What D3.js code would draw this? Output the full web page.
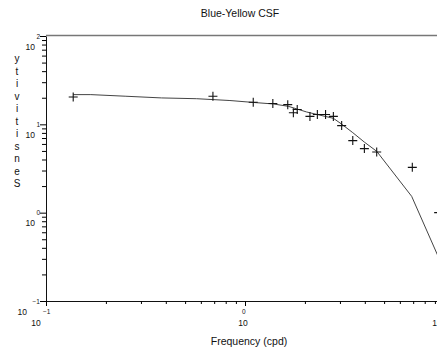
<!DOCTYPE html>
<html lang="en">
<head>
    <meta charset="UTF-8">
    <title>Blue-Yellow CSF</title>
    <script src="https://d3js.org/d3.v7.min.js"></script>
    <style>
        body { margin: 0; background: #fff; }
        text { font-family: "Liberation Sans", Arial, sans-serif; fill: #111; }
    </style>
</head>
<body>
    <svg width="437" height="349"></svg>
    <script>

// measured points (cpd, sensitivity)
const freqs = [0.137, 0.69, 1.10, 1.38, 1.64, 1.75, 1.83, 2.12, 2.31, 2.54, 2.78, 3.06, 3.48, 3.98, 4.59, 6.93, 9.4];
const sens  = [20.4, 20.8, 17.8, 17.2, 16.7, 13.5, 14.7, 12.3, 12.9, 12.9, 12.3, 9.67, 6.54, 5.31, 4.87, 3.26, 1.0];

// fitted curve
const fitFreqs = [0.137, 0.168, 0.252, 0.381, 0.572, 0.84, 1.10, 1.39, 1.65, 2.04, 2.38, 2.78, 3.06, 3.48, 3.98, 4.59, 6.88, 10.0];
const fitSens  = [21.7, 21.7, 20.8, 19.9, 19.5, 18.6, 17.7, 17.0, 16.0, 13.8, 12.7, 11.7, 10.05, 8.05, 6.29, 4.95, 1.53, 0.226];

// axis decades (powers of ten)
const xDecades = [-1, 0, 1];
const yDecades = [-1, 0, 1, 2];

const svg = d3.select("svg");
const plotLeft = 46, plotRight = 444, plotTop = 36, plotBottom = 301;

const x = d3.scaleLog().domain([0.1, 10]).range([plotLeft, plotRight]);
const y = d3.scaleLog().domain([0.1, 100]).range([plotBottom, plotTop]);

// minor + major tick values
function logTicks(exps) {
    const out = [];
    for (let i = 0; i < exps.length - 1; i++) {
        for (let m = 1; m < 10; m++) out.push(m * Math.pow(10, exps[i]));
    }
    out.push(Math.pow(10, exps[exps.length - 1]));
    return out;
}
const isMajor = v => Math.abs(Math.log10(v) - Math.round(Math.log10(v))) < 1e-9;

// top frame line
svg.append("line")
    .attr("x1", plotLeft).attr("x2", plotRight)
    .attr("y1", plotTop - 0.5).attr("y2", plotTop - 0.5)
    .attr("stroke", "#777").attr("stroke-width", 1.6);

// x axis
const xAxis = svg.append("g")
    .attr("transform", `translate(0,${plotBottom})`)
    .call(d3.axisBottom(x).tickValues(logTicks(xDecades)).tickFormat("").tickSizeOuter(0));
xAxis.selectAll(".tick line").attr("y2", d => isMajor(d) ? 5 : 3);
xAxis.select(".domain").attr("stroke", "#111");

// y axis
const yAxis = svg.append("g")
    .attr("transform", `translate(${plotLeft},0)`)
    .call(d3.axisLeft(y).tickValues(logTicks(yDecades)).tickFormat("").tickSizeOuter(0));
yAxis.selectAll(".tick line").attr("x2", d => isMajor(d) ? -6 : -4);
yAxis.select(".domain").attr("stroke", "#111");

// x tick labels: 10 with raised exponent
xDecades.forEach(e => {
    const px = x(Math.pow(10, e));
    svg.append("text")
        .attr("x", px - 3).attr("y", 313.5)
        .attr("font-size", 6.5)
        .text(e < 0 ? "\u2212" + (-e) : e);
    svg.append("text")
        .attr("x", px + (e === -1 ? -10 : e === 0 ? -2 : -7)).attr("y", 325.5)
        .attr("text-anchor", "middle")
        .attr("font-size", 8.5)
        .text("10");
});

// y tick labels
yDecades.forEach(e => {
    const py = y(Math.pow(10, e));
    svg.append("text")
        .attr("x", 40).attr("y", py + 2.5)
        .attr("text-anchor", "end")
        .attr("font-size", 6.5)
        .text(e < 0 ? "\u2212" + (-e) : e);
    svg.append("text")
        .attr("x", e < 0 ? 27 : 35).attr("y", py + 13.5)
        .attr("text-anchor", "end")
        .attr("font-size", 8.5)
        .text("10");
});

// fitted curve
const line = d3.line()
    .x((d, i) => x(fitFreqs[i]))
    .y((d, i) => y(fitSens[i]));
svg.append("path")
    .attr("d", line(fitFreqs))
    .attr("fill", "none")
    .attr("stroke", "#444")
    .attr("stroke-width", 1);

// data markers (+)
svg.selectAll(".pt")
    .data(freqs)
    .enter().append("path")
    .attr("class", "pt")
    .attr("d", (d, i) => {
        const cx = x(d), cy = y(sens[i]);
        return `M${cx - 4.5},${cy}H${cx + 4.5}M${cx},${cy - 4.5}V${cy + 4.5}`;
    })
    .attr("stroke", "#111")
    .attr("stroke-width", 1.1);

// titles
svg.append("text")
    .attr("x", 240).attr("y", 17)
    .attr("text-anchor", "middle")
    .attr("font-size", 10.5)
    .text("Blue-Yellow CSF");

svg.append("text")
    .attr("x", 249).attr("y", 345)
    .attr("text-anchor", "middle")
    .attr("font-size", 10.5)
    .text("Frequency (cpd)");

// vertical y title, letters stacked bottom to top
const yTitle = "Sensitivity".split("").reverse();
svg.selectAll(".ytitle")
    .data(yTitle)
    .enter().append("text")
    .attr("class", "ytitle")
    .attr("x", 17).attr("y", (d, i) => 62 + i * 12.5)
    .attr("text-anchor", "middle")
    .attr("font-size", 10)
    .text(d => d);

    </script>
</body>
</html>
